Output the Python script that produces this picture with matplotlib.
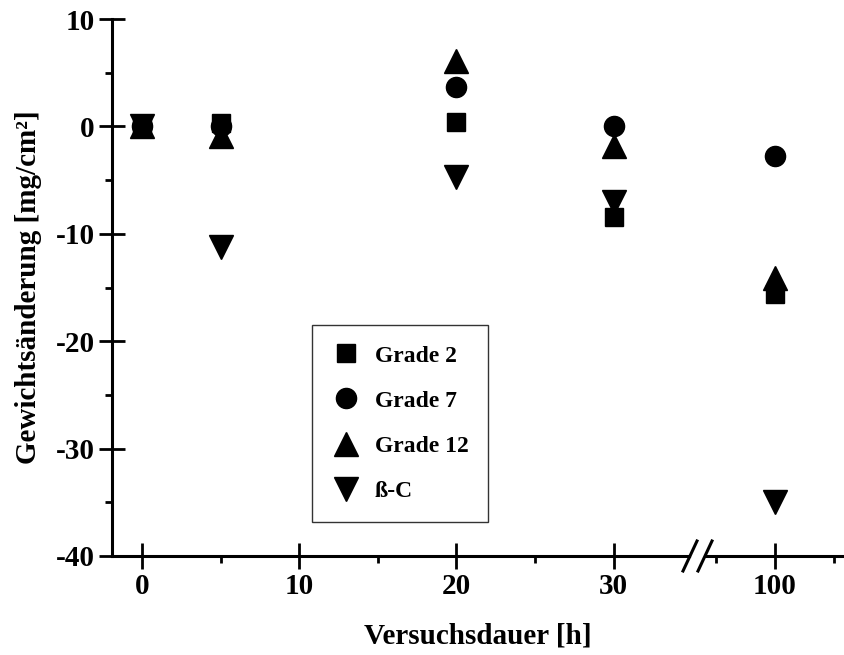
import numpy as np
import matplotlib
matplotlib.use("Agg")
import matplotlib.pyplot as plt
from matplotlib.lines import Line2D

# ---- data ----
hours = [0, 5, 20, 30, 100]
grade2 = [0.0, 0.3, 0.4, -8.4, -15.6]
grade7 = [0.0, 0.0, 3.7, 0.0, -2.8]
grade12 = [0.0, -0.9, 6.1, -1.8, -14.1]
beta_c = [0.0, -11.2, -4.7, -7.0, -35.0]
series_labels = ["Grade 2", "Grade 7", "Grade 12", "ß-C"]
xticks_major = [0, 10, 20, 30, 100]
xticks_minor = [5, 15, 25, 95, 105]
yticks_major = [-40, -30, -20, -10, 0, 10]
yticks_minor = [-35, -25, -15, -5, 5]

plt.rcParams['font.family'] = ['Liberation Serif', 'DejaVu Serif']
plt.rcParams['font.weight'] = 'bold'

# broken x axis: piecewise-linear scale
real_pts = np.array([-100.0, 35.0, 93.76, 300.0])
pos_pts = np.array([-100.0, 35.0, 35.56, 40.24 + 200 * 0.75])

def fwd(x):
    return np.interp(x, real_pts, pos_pts)

def inv(p):
    return np.interp(p, pos_pts, real_pts)

fig = plt.figure(figsize=(8.45, 6.55), dpi=100)
ax = fig.add_axes([112 / 845, 1 - 556 / 655, (843 - 112) / 845, (556 - 19) / 655])
ax.set_xscale('function', functions=(fwd, inv))
ax.set_xlim(inv(-1.9), inv(44.57))
ax.set_ylim(-40, 10)

ax.plot(hours, grade2, ls='none', marker='s', ms=13, color='black', label=series_labels[0], clip_on=False)
ax.plot(hours, grade7, ls='none', marker='o', ms=14.5, color='black', label=series_labels[1], clip_on=False)
ax.plot(hours, grade12, ls='none', marker='^', ms=17, color='black', label=series_labels[2], clip_on=False)
ax.plot(hours, beta_c, ls='none', marker='v', ms=17, color='black', label=series_labels[3], clip_on=False)

for s in ['top', 'right']:
    ax.spines[s].set_visible(False)
for s in ['left', 'bottom']:
    ax.spines[s].set_linewidth(2.2)

ax.set_xticks(xticks_major)
ax.set_xticklabels([str(v) for v in xticks_major])
ax.set_xticks(xticks_minor, minor=True)
ax.set_yticks(yticks_major)
ax.set_yticklabels([str(v) for v in yticks_major])
ax.set_yticks(yticks_minor, minor=True)

ax.tick_params(which='major', direction='inout', length=18.7, width=2.0,
               labelsize=21, pad=3)
ax.tick_params(which='minor', direction='out', length=5, width=2.0)
for lab in ax.get_xticklabels() + ax.get_yticklabels():
    lab.set_fontweight('bold')

ax.set_xlabel("Versuchsdauer [h]", fontsize=21, fontweight='bold', labelpad=16)
ax.set_ylabel("Gewichtsänderung [mg/cm²]", fontsize=21, fontweight='bold', labelpad=10)

# break marks on x axis
bx = [690 / 845, 705 / 845]
y0 = 1 - 556 / 655
fig.add_artist(Line2D([bx[0] + 0.004, bx[1] - 0.004], [y0, y0], color='white', lw=3.5,
                      transform=fig.transFigure))
for b in bx:
    fig.add_artist(Line2D([b - 7 / 845, b + 7 / 845], [y0 - 15 / 655, y0 + 15 / 655],
                          color='black', lw=2.2, transform=fig.transFigure))

leg = ax.legend(loc='upper left', bbox_to_anchor=(312 / 845, 1 - 325 / 655),
                bbox_transform=fig.transFigure, frameon=True, fancybox=False,
                prop={'family': 'Liberation Serif', 'weight': 'bold', 'size': 17},
                labelspacing=1.0, handletextpad=0.6, borderpad=0.85,
                handlelength=1.2, borderaxespad=0)
leg.get_frame().set_edgecolor('black')
leg.get_frame().set_linewidth(1.0)

fig.savefig("out.png", dpi=100)
